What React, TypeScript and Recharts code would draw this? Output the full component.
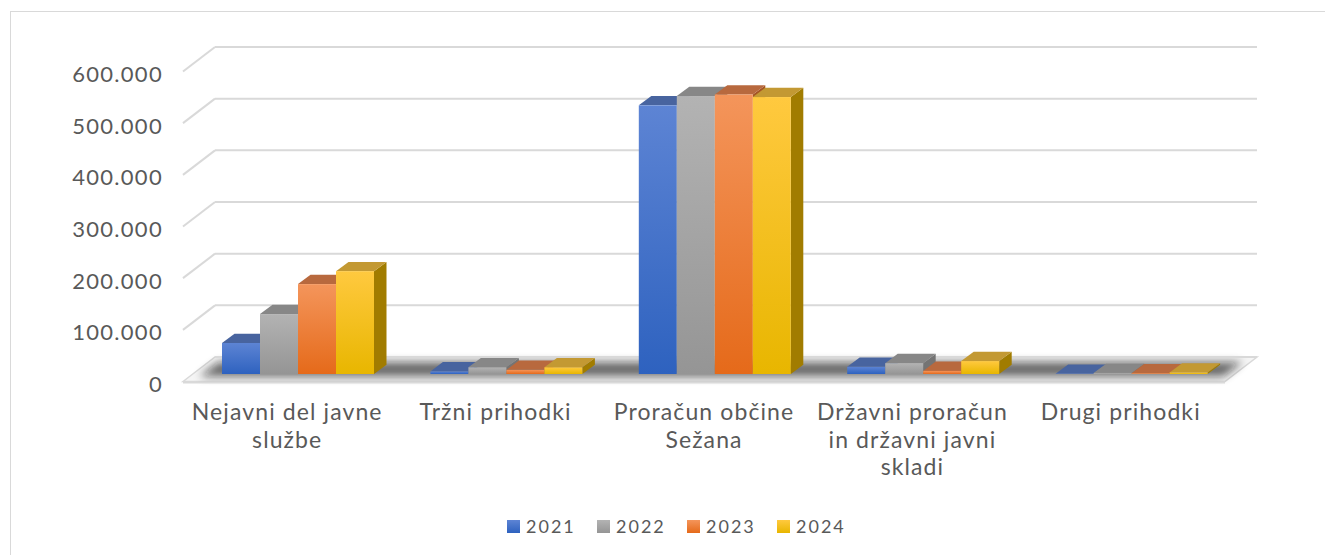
import React from 'react';
import { BarChart, Bar, XAxis, YAxis, CartesianGrid } from 'recharts';

const categories = [
  'Nejavni del javne službe',
  'Tržni prihodki',
  'Proračun občine Sežana',
  'Državni proračun in državni javni skladi',
  'Drugi prihodki',
];
const years = ['2021', '2022', '2023', '2024'];
const values2021 = [60000, 5000, 520000, 14000, 500];
const values2022 = [116000, 13000, 538000, 21000, 2000];
const values2023 = [174000, 8000, 541000, 6000, 1500];
const values2024 = [199000, 13000, 536000, 25000, 3000];
const yTicks = [0, 100000, 200000, 300000, 400000, 500000, 600000];

const seriesValues: Record<string, number[]> = {
  '2021': values2021,
  '2022': values2022,
  '2023': values2023,
  '2024': values2024,
};

const data = categories.map((name, i) => {
  const row: Record<string, string | number> = { name };
  years.forEach((yr) => {
    row[yr] = seriesValues[yr][i];
  });
  return row;
});

const palette: Record<string, { light: string; dark: string; top: string; side: string }> = {
  '2021': { light: '#5d84d4', dark: '#2e62bf', top: '#48649f', side: '#2f4f8c' },
  '2022': { light: '#b3b3b3', dark: '#959595', top: '#878787', side: '#747474' },
  '2023': { light: '#f4955b', dark: '#e56a1a', top: '#b8693e', side: '#a55524' },
  '2024': { light: '#ffc93f', dark: '#e8b600', top: '#c39933', side: '#a17c00' },
};

const W = 1325;
const H = 555;
const TEXT = '#595959';
const GRID = '#d9d9d9';
const FONT = 'Lato, "Open Sans", sans-serif';

// 3d offsets relative to the plane the bar fronts sit in
const BAR_DX = 12.5;
const BAR_DY = 9.3;
const BACK_DX = 21;
const BACK_DY = 17;
const FRONT_DX = 11;
const FRONT_DY = 7.5;
const PLOT_BOTTOM = 374;

const fmt = (v: number) => String(v).replace(/\B(?=(\d{3})+(?!\d))/g, '.');

function wrap(label: string, maxChars = 17) {
  const lines: string[] = [];
  let cur = '';
  label.split(' ').forEach((w) => {
    const next = cur ? cur + ' ' + w : w;
    if (next.length > maxChars && cur) {
      lines.push(cur);
      cur = w;
    } else {
      cur = next;
    }
  });
  if (cur) lines.push(cur);
  return lines;
}

function Box3D(props: any) {
  const { x, y, width, height, year } = props;
  const c = palette[year];
  const h = Math.max(height || 0, 0);
  return (
    <g>
      <polygon
        points={`${x + width},${y + h} ${x + width},${y} ${x + width + BAR_DX},${y - BAR_DY} ${x + width + BAR_DX},${y + h - BAR_DY}`}
        fill={c.side}
      />
      <polygon
        points={`${x},${y} ${x + BAR_DX},${y - BAR_DY} ${x + width + BAR_DX},${y - BAR_DY} ${x + width},${y}`}
        fill={c.top}
      />
      <rect x={x} y={y} width={width} height={h} fill={`url(#front-${year})`} />
    </g>
  );
}

function gridLine(p: any) {
  const { x1, x2, y1 } = p;
  const isFloor = Math.abs(y1 - PLOT_BOTTOM) < 1;
  const bx1 = x1 + BACK_DX;
  const bx2 = x2 + BACK_DX;
  const by = y1 - BACK_DY;
  const fx1 = x1 - FRONT_DX;
  const fx2 = x2 - FRONT_DX;
  const fy = y1 + FRONT_DY;
  if (isFloor) {
    const at = (t: number, left: boolean) => {
      const fx = left ? fx1 : fx2;
      const bx = left ? bx1 : bx2;
      return [fx + t * (bx - fx), fy + t * (by - fy)];
    };
    const a = at(0.2, true);
    const b = at(0.8, true);
    const c = at(0.8, false);
    const d = at(0.2, false);
    return (
      <g key={p.key}>
        <polygon
          points={`${fx1},${fy} ${bx1},${by} ${bx2},${by} ${fx2},${fy}`}
          fill="#f5f5f5"
          stroke={GRID}
          strokeWidth={1.5}
        />
        <polygon
          points={`${a[0] + 10},${a[1]} ${b[0] + 10},${b[1]} ${c[0] - 8},${c[1]} ${d[0] - 8},${d[1]}`}
          fill="#111"
          opacity={0.6}
          filter="url(#floorBlur)"
        />
        <line x1={fx1} y1={fy + 1} x2={fx2} y2={fy + 1} stroke={GRID} strokeWidth={2} />
        <line x1={bx1} y1={by} x2={bx2} y2={by} stroke={GRID} strokeWidth={2} />
      </g>
    );
  }
  return (
    <g key={p.key}>
      <line x1={fx1} y1={fy} x2={bx1} y2={by} stroke={GRID} strokeWidth={2} />
      <line x1={bx1} y1={by} x2={bx2} y2={by} stroke={GRID} strokeWidth={2} />
    </g>
  );
}

function YTick(p: any) {
  const { x, y, payload } = p;
  return (
    <text
      x={x}
      y={y + 10}
      dy="0.36em"
      textAnchor="end"
      fill={TEXT}
      fontFamily={FONT}
      fontSize={22}
      letterSpacing={1.3}
    >
      {fmt(payload.value)}
    </text>
  );
}

function XTick(p: any) {
  const { x, payload } = p;
  const lines = wrap(payload.value);
  return (
    <g>
      {lines.map((ln, i) => (
        <text
          key={i}
          x={x - FRONT_DX}
          y={420 + i * 27.5}
          textAnchor="middle"
          fill={TEXT}
          fontFamily={FONT}
          fontSize={23}
          letterSpacing={1.1}
        >
          {ln}
        </text>
      ))}
    </g>
  );
}

export default function App() {
  return (
    <div
      style={{
        position: 'absolute',
        left: 0,
        top: 0,
        width: W,
        height: H,
        background: '#fff',
        overflow: 'hidden',
      }}
    >
      <svg width={0} height={0} style={{ position: 'absolute' }}>
        <defs>
          {years.map((yr) => (
            <linearGradient key={yr} id={`front-${yr}`} x1="0" y1="0" x2="0" y2="1">
              <stop offset="0%" stopColor={palette[yr].light} />
              <stop offset="100%" stopColor={palette[yr].dark} />
            </linearGradient>
          ))}
          <filter id="floorBlur" x="-10%" y="-100%" width="120%" height="300%">
            <feGaussianBlur stdDeviation="4.5" />
          </filter>
        </defs>
      </svg>
      <div
        style={{
          position: 'absolute',
          left: 10,
          top: 11,
          width: 1400,
          height: 700,
          border: `1px solid ${GRID}`,
        }}
      />
      <div style={{ position: 'absolute', left: 0, top: 0 }}>
        <BarChart
          width={W}
          height={H}
          data={data}
          margin={{ top: 64, right: 89, left: 74, bottom: 121 }}
          barGap={0}
          barSize={38}
        >
          <CartesianGrid vertical={false} horizontal={gridLine} />
          <XAxis
            dataKey="name"
            axisLine={false}
            tickLine={false}
            interval={0}
            height={60}
            tick={XTick}
          />
          <YAxis
            domain={[0, 600000]}
            ticks={yTicks}
            axisLine={false}
            tickLine={false}
            width={120}
            tickMargin={25}
            tick={YTick}
          />
          {years.map((yr) => (
            <Bar
              key={yr}
              dataKey={yr}
              isAnimationActive={false}
              fill={palette[yr].dark}
              shape={(sp: any) => <Box3D {...sp} year={yr} />}
            />
          ))}
        </BarChart>
      </div>
      <div
        style={{
          position: 'absolute',
          left: 507,
          top: 517,
          display: 'flex',
          fontFamily: FONT,
          fontSize: 18,
          letterSpacing: 2,
          color: TEXT,
        }}
      >
        {years.map((yr) => (
          <div key={yr} style={{ display: 'flex', alignItems: 'center', width: 90 }}>
            <span
              style={{
                display: 'inline-block',
                width: 13,
                height: 13,
                marginRight: 6,
                background: `linear-gradient(${palette[yr].light}, ${palette[yr].dark})`,
              }}
            />
            <span style={{ lineHeight: '18px' }}>{yr}</span>
          </div>
        ))}
      </div>
    </div>
  );
}
